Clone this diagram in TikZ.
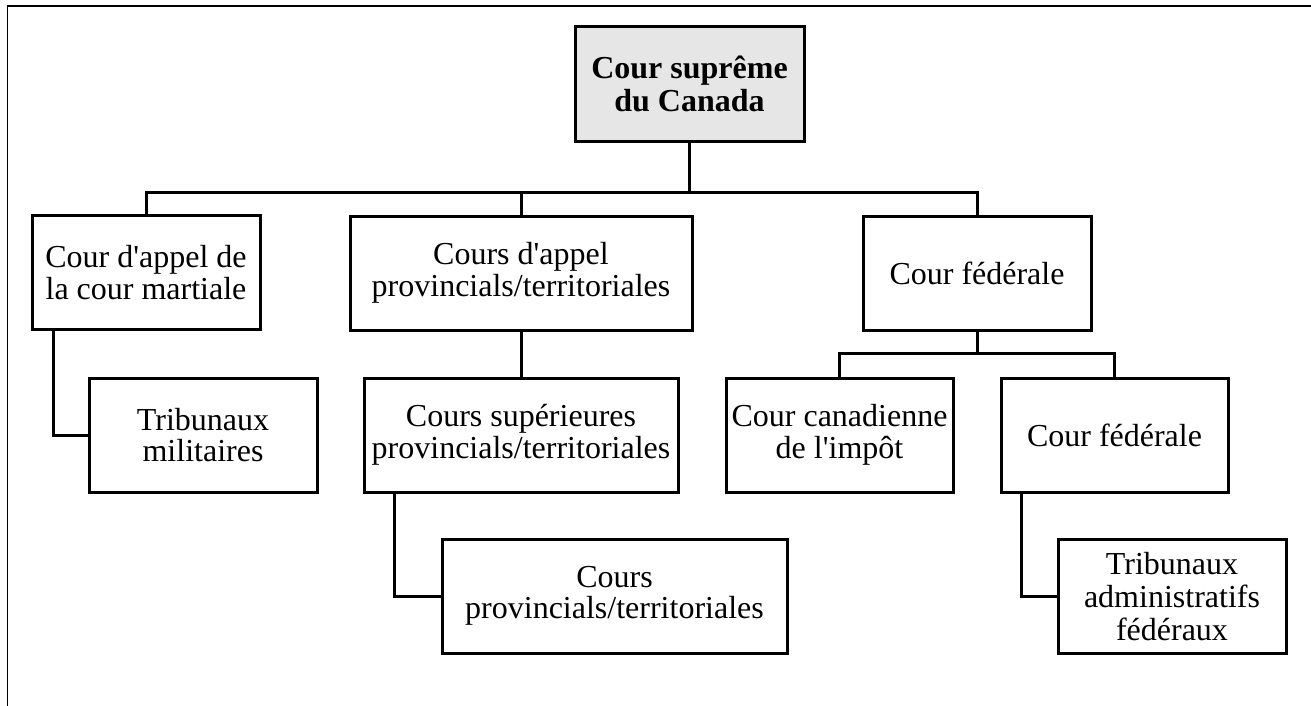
\documentclass[tikz,border=0pt]{standalone}
\usepackage{fontspec}
\setmainfont{Liberation Serif}
\usetikzlibrary{calc}
\definecolor{supgray}{RGB}{230,230,230}
\tikzset{
	court/.style={draw=black, line width=3pt, align=center, inner sep=0pt,
		minimum height=114pt, font={\fontsize{32}{31.5}\selectfont}},
	link/.style={line width=3pt},
}

\begin{document}
\begin{tikzpicture}[x=1pt, y=-1pt]
			%%%%% START %%%%%
			
			\useasboundingbox (0, 0) rectangle (1311, 706);
			\draw[line width=1.6pt] (7.3, 706) -- (7.3, 6.3) -- (1311, 6.3);
			
			\node[court, fill=supgray, minimum width=229pt, font={\fontsize{32}{32.5}\selectfont\bfseries}] (sup) at (689.5, 84) {Cour suprême\\du Canada};
			
			\node[court, minimum width=228pt] (cam) at (146, 272.5) {Cour d\textquotesingle appel de\\la cour martiale};
			\node[court, minimum width=342pt] (cap) at (521, 273) {Cours d\textquotesingle appel\\provincials/territoriales};
			\node[court, minimum width=228pt] (cfed) at (977, 273) {Cour fédérale};
			
			\node[court, minimum width=228pt] (tmil) at (203, 435) {Tribunaux\\militaires};
			\node[court, minimum width=314pt] (csup) at (521, 435) {Cours supérieures\\provincials/territoriales};
			\node[court, minimum width=227pt] (cimp) at (839.5, 435) {Cour canadienne\\de l\textquotesingle impôt};
			\node[court, minimum width=227pt] (cfedb) at (1114.5, 435) {Cour fédérale};
			
			\node[court, minimum width=345pt] (cprov) at (614.5, 596) {Cours\\provincials/territoriales};
			\node[court, minimum width=228pt, font={\fontsize{32}{33}\selectfont}] (tadm) at (1172, 596.5) {Tribunaux\\administratifs\\fédéraux};
			
			\coordinate (bus) at (146, 192);
			\coordinate (fedbus) at (977, 353);
			
			\draw[link] (sup.south) -- (sup.south |- bus);
			\draw[link] (cam.north) -- (cam.north |- bus) -- (cfed.north |- bus) -- (cfed.north);
			\draw[link] (cap.north) -- (cap.north |- bus);
			
			\draw[link] ([xshift=23pt]cam.south west) |- (tmil.west);
			\draw[link] (cap.south) -- (csup.north);
			\draw[link] ([xshift=32pt]csup.south west) |- (cprov.west);
			
			\draw[link] (cfed.south) -- (fedbus);
			\draw[link] (cimp.north) -- (cimp.north |- fedbus) -- (cfedb.north |- fedbus) -- (cfedb.north);
			\draw[link] ([xshift=22pt]cfedb.south west) |- (tadm.west);
			
			%%%%% END %%%%%
\end{tikzpicture}
\end{document}
